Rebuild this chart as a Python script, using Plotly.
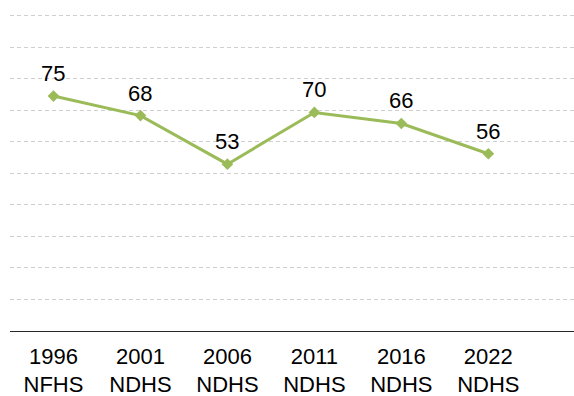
import plotly.graph_objects as go

surveys = ["1996<br>NFHS", "2001<br>NDHS", "2006<br>NDHS", "2011<br>NDHS", "2016<br>NDHS", "2022<br>NDHS"]
values = [74.5, 68.3, 52.9, 69.3, 65.8, 56.2]
labels = ["75", "68", "53", "70", "66", "56"]

GREEN = "#9BBB59"
FONT = "Liberation Sans, Arial, sans-serif"

fig = go.Figure()
fig.add_trace(go.Scatter(
    x=surveys, y=values, mode="lines+markers",
    line=dict(color=GREEN, width=3),
    marker=dict(symbol="diamond", size=9, color=GREEN),
    hoverinfo="skip", showlegend=False,
))

for s, v, t in zip(surveys, values, labels):
    fig.add_annotation(x=s, y=v, text=t, showarrow=False, yanchor="bottom",
                       yshift=8, font=dict(family=FONT, size=22, color="#000000"))

fig.update_layout(
    width=574, height=396,
    margin=dict(l=10, r=0, t=9, b=65),
    paper_bgcolor="white", plot_bgcolor="white",
    font=dict(family=FONT, size=22, color="#000000"),
)
fig.update_xaxes(
    type="category", range=[-0.5, 5.985], automargin=False,
    showgrid=False, showline=True, linecolor="#262626", linewidth=1.3,
    ticks="", ticklabelstandoff=5, tickfont=dict(family=FONT, size=22, color="#000000"),
)
fig.update_yaxes(
    range=[0, 102.1], automargin=False,
    tickvals=[10, 20, 30, 40, 50, 60, 70, 80, 90, 100], showticklabels=False,
    showgrid=True, gridcolor="#cfcfcf", gridwidth=1, griddash="4px,3px",
    zeroline=False, showline=False,
)

fig.write_html("out.html")
